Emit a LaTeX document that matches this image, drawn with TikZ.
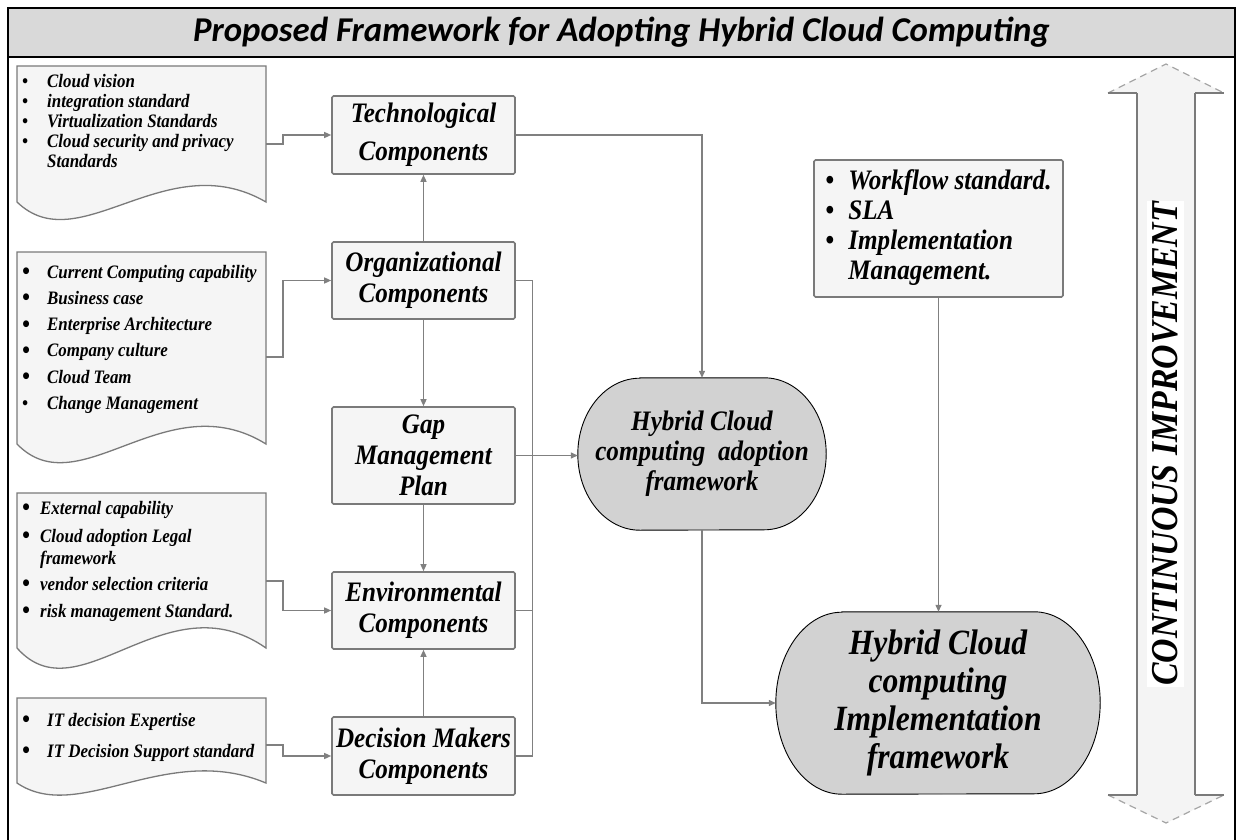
\documentclass[tikz,border=0pt]{standalone}
\usepackage{fontspec}
\setmainfont[FakeStretch=0.89]{Liberation Serif}
\newfontfamily\titlefont{Carlito}
\usetikzlibrary{arrows.meta,backgrounds,calc}
\definecolor{boxfill}{HTML}{F5F5F5}
\definecolor{boxline}{HTML}{7A7A7A}
\definecolor{connc}{HTML}{808080}
\definecolor{ovalfill}{HTML}{D2D2D2}
\definecolor{bandfill}{HTML}{D9D9D9}
\definecolor{arrowfill}{HTML}{F4F4F4}
\newcommand\bl[1]{\makebox[#1][l]{\textbullet}}
\newcommand\bbl[1]{\makebox[#1][l]{\raisebox{-1.5pt}{\fontsize{25}{25}\selectfont\textbullet}}}
\newcommand\stadium[3]{%
  \path[ovalst] ([xshift=#2]#1.north west) -- ([xshift=-#2]#1.north east)
    arc[start angle=90,end angle=-90,x radius=#2,y radius=#3]
    -- ([xshift=#2]#1.south west)
    arc[start angle=270,end angle=90,x radius=#2,y radius=#3] -- cycle;}
\begin{document}
\begin{tikzpicture}[x=1pt,y=-1pt,
  comp/.style={draw=boxline, line width=1.6pt, fill=boxfill, rounded corners=1.5pt,
    minimum width=183pt, inner sep=0pt, align=center,
    font=\fontsize{28.2}{31}\selectfont\bfseries\itshape},
  conn/.style={draw=connc, line width=1.3pt, -{Triangle[length=7pt,width=6pt]}},
  plainline/.style={draw=connc, line width=1.3pt},
  docshape/.style={draw=boxline, line width=1.3pt, fill=boxfill},
  doctext/.style={anchor=base west, inner sep=0pt, align=left},
  ovalst/.style={draw=black, line width=0.9pt, fill=ovalfill},
  oval/.style={inner sep=0pt, align=center, font=\bfseries\itshape},
  titlest/.style={inner sep=0pt, font=\titlefont\fontsize{34.8}{34.8}\selectfont\bfseries\itshape},
  shaftline/.style={draw=boxline, line width=2pt},
  headdash/.style={draw=gray!70, line width=1.2pt, dash pattern=on 7pt off 5pt},
  headbase/.style={draw=boxline, line width=2pt}
]
\useasboundingbox (0,0) rectangle (1239,840);
\clip (0,0) rectangle (1239,840);

% title band and frame
\fill[bandfill] (8,8) rectangle (1235,57);
\draw[line width=1.6pt] (8,57) -- (1235,57);
\draw[line width=1.8pt] (8,860) -- (8,8) -- (1235,8) -- (1235,860);
\node[titlest] (title) at (621.5,32) {Proposed Framework for Adopting Hybrid Cloud Computing};

% documents
\path[docshape] (17,66) -- (266,66) -- (266,202) .. controls (166,144) and (79,262) .. (17,202) -- cycle;
\path[docshape] (17,252) -- (266,252) -- (266,444) .. controls (166,382) and (79,508) .. (17,444) -- cycle;
\path[docshape] (17,493) -- (266,493) -- (266,648) .. controls (166,578) and (79,718) .. (17,648) -- cycle;
\path[docshape] (17,698) -- (266,698) -- (266,783) .. controls (166,741) and (79,825) .. (17,783) -- cycle;

\node[doctext, font=\fontsize{19}{20}\selectfont\bfseries\itshape] (d1) at (22,88) {%
  \begin{tabular}[t]{@{}l@{}l@{}}
  \bl{25pt} & Cloud vision\\
  \bl{25pt} & integration standard\\
  \bl{25pt} & Virtualization Standards\\
  \bl{25pt} & Cloud security and privacy\\
   & Standards
  \end{tabular}};
\node[doctext, font=\fontsize{19}{26.3}\selectfont\bfseries\itshape] (d2) at (22,278) {%
  \begin{tabular}[t]{@{}l@{}l@{}}
  \bbl{25pt} & Current Computing capability\\
  \bbl{25pt} & Business case\\
  \bbl{25pt} & Enterprise Architecture\\
  \bbl{25pt} & Company culture\\
  \bbl{25pt} & Cloud Team\\
  \bl{25pt} & Change Management
  \end{tabular}};
\node[doctext, font=\fontsize{19}{22}\selectfont\bfseries\itshape] (d3) at (22,514) {%
  \begin{tabular}[t]{@{}l@{}l@{}}
  \bbl{18pt} & External capability\\[6pt]
  \bbl{18pt} & Cloud adoption Legal\\
   & framework\\[4pt]
  \bbl{18pt} & vendor selection criteria\\[5pt]
  \bbl{18pt} & risk management Standard.
  \end{tabular}};
\node[doctext, font=\fontsize{19}{31}\selectfont\bfseries\itshape] (d4) at (22,726) {%
  \begin{tabular}[t]{@{}l@{}l@{}}
  \bbl{25pt} & IT decision Expertise\\
  \bbl{25pt} & IT Decision Support standard
  \end{tabular}};

\coordinate (d1o) at (266,144);
\coordinate (d2o) at (266,357);
\coordinate (d3o) at (266,581);
\coordinate (d4o) at (266,745);

% component boxes
\node[comp, minimum height=78pt, font=\fontsize{28.2}{38}\selectfont\bfseries\itshape] (tech) at (423.5,135) {Technological\\Components};
\node[comp, minimum height=77pt] (org) at (423.5,280.5) {Organizational\\Components};
\node[comp, minimum height=97pt] (gap) at (423.5,455.5) {Gap\\Management\\Plan};
\node[comp, minimum height=77pt] (env) at (423.5,610.5) {Environmental\\Components};
\node[comp, minimum height=78pt] (dm) at (423.5,756) {Decision Makers\\Components};

% workflow box
\node[comp, minimum width=249pt, minimum height=137pt, align=left,
  font=\fontsize{28.2}{30}\selectfont\bfseries\itshape] (wf) at (938.5,228.5) {%
  \begin{tabular}{@{}l@{}l@{}}
  \bl{23pt} & Workflow standard.\\
  \bl{23pt} & SLA\\
  \bl{23pt} & Implementation\\
   & Management.
  \end{tabular}};

% oval frameworks
\node[oval, minimum width=248pt, minimum height=152pt, font=\fontsize{28.2}{30}\selectfont\bfseries\itshape] (adopt) at (702,454) {Hybrid Cloud\\computing~ adoption\\framework};
\node[oval, minimum width=324pt, minimum height=182pt, font=\fontsize{35.5}{38}\selectfont\bfseries\itshape] (impl) at (938,703) {Hybrid Cloud\\computing\\Implementation\\framework};
\begin{scope}[on background layer]
  \fill[white] (0,0) rectangle (1239,840);
  \stadium{adopt}{62pt}{76pt}
  \stadium{impl}{66pt}{91pt}
\end{scope}

% connectors from documents
\draw[conn] (d1o) -- ++(17,0) |- (tech.west);
\draw[conn] (d2o) -- ++(17,0) |- (org.west);
\draw[conn] (d3o) -- ++(17,0) |- (env.west);
\draw[conn] (d4o) -- ++(17,0) |- (dm.west);

% vertical connectors
\draw[conn] (org.north) -- (tech.south);
\draw[conn] (org.south) -- (gap.north);
\draw[conn] (gap.south) -- (env.north);
\draw[conn] (dm.north) -- (env.south);

% bus on the right of the components
\draw[plainline] (org.east) -- ++(17,0) coordinate (bus) |- (dm.east);
\draw[plainline] (env.east) -- (env.east -| bus);
\draw[conn] (gap.east) -- (gap.east -| adopt.west);

\draw[conn] (tech.east) -| (adopt.north);
\draw[conn] (adopt.south) |- (impl.west);
\draw[conn] (wf.south) -- (wf.south |- impl.north);

% continuous improvement arrow
\fill[arrowfill] (1137,93) -- (1108,93) -- (1166,64) -- (1224,93) -- (1195,93) -- (1195,795)
  -- (1224,795) -- (1166,823) -- (1108,795) -- (1137,795) -- cycle;
\draw[shaftline] (1137,93) -- (1137,795);
\draw[shaftline] (1195,93) -- (1195,795);
\draw[headdash] (1108,93) -- (1166,64) -- (1224,93);
\draw[headdash] (1108,795) -- (1166,823) -- (1224,795);
\draw[headbase] (1108,93) -- (1137,93) (1195,93) -- (1224,93);
\draw[headbase] (1108,795) -- (1137,795) (1195,795) -- (1224,795);
\node[rotate=90, fill=white, inner xsep=1pt, inner ysep=6pt,
  font=\fontsize{38}{38}\selectfont\bfseries\itshape] (ci) at (1165.5,444) {CONTINUOUS IMPROVEMENT};
\end{tikzpicture}
\end{document}
